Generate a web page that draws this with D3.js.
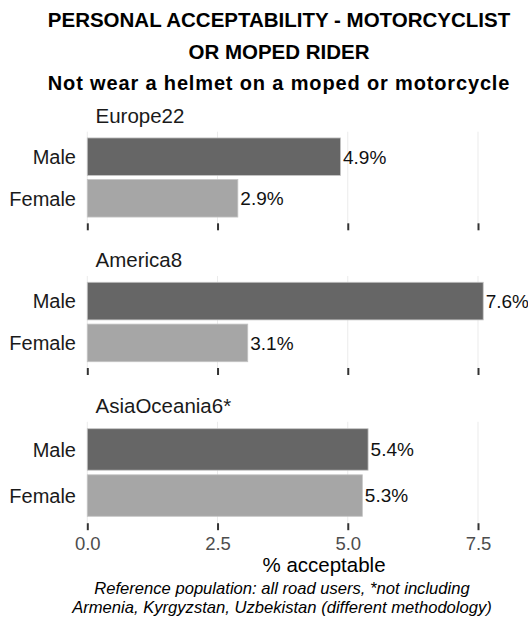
<!DOCTYPE html>
<html>
<head>
<meta charset="utf-8">
<script src="https://cdn.jsdelivr.net/npm/d3@7"></script>
<style>
  html, body { margin: 0; padding: 0; background: #ffffff; }
  svg { display: block; font-family: "Liberation Sans", Arial, sans-serif; }
</style>
</head>
<body>
<svg id="chart" width="528" height="621"></svg>
<script>
// ---- data ----
const titleLines = ["PERSONAL ACCEPTABILITY - MOTORCYCLIST", "OR MOPED RIDER"];
const subtitle = "Not wear a helmet on a moped or motorcycle";
const regions = ["Europe22", "America8", "AsiaOceania6*"];
const genders = ["Male", "Female"];
const maleValues = [4.86, 7.60, 5.39];
const femaleValues = [2.89, 3.08, 5.28];
const xTicks = [0, 2.5, 5.0, 7.5];
const xTitle = "% acceptable";
const captionLines = [
  "Reference population: all road users, *not including",
  "Armenia, Kyrgyzstan, Uzbekistan (different methodology)"
];

// ---- layout ----
const panelExtents = [[131.7, 223.3], [276, 368], [421.8, 523.2]];
const stripBaselines = [123.3, 267.3, 413.3];
const colors = { Male: "#666666", Female: "#a6a6a6" };

const svg = d3.select("#chart");
const x = d3.scaleLinear().domain([0, 7.5]).range([87.3, 478]);
const fmtVal = d3.format(".1f");

// titles
svg.append("g").selectAll("text").data(titleLines).join("text")
  .attr("x", 279).attr("y", (d, i) => [26.7, 59.3][i])
  .attr("text-anchor", "middle").attr("font-weight", "bold")
  .attr("font-size", 20.5).attr("fill", "#000").text(d => d);
svg.append("text").attr("x", 279).attr("y", 90)
  .attr("text-anchor", "middle").attr("font-weight", "bold")
  .attr("font-size", 20).attr("letter-spacing", 0.85).attr("fill", "#000").text(subtitle);

regions.forEach((region, ri) => {
  const [top, bottom] = panelExtents[ri];
  const rows = genders.map(g => ({ gender: g, value: g === "Male" ? maleValues[ri] : femaleValues[ri] }));
  const y = d3.scaleBand().domain(genders).range([top, bottom]).paddingInner(0.1).paddingOuter(0.15);
  const g = svg.append("g");

  // strip label
  g.append("text").attr("x", 95.5).attr("y", stripBaselines[ri])
    .attr("font-size", 20.5).attr("fill", "#1a1a1a").text(region);

  // grid
  g.append("g").selectAll("line").data(xTicks).join("line")
    .attr("x1", d => x(d)).attr("x2", d => x(d))
    .attr("y1", top).attr("y2", bottom)
    .attr("stroke", "#ebebeb").attr("stroke-width", 1);

  // bars
  g.append("g").selectAll("rect").data(rows).join("rect")
    .attr("x", x(0)).attr("y", d => y(d.gender))
    .attr("width", d => x(d.value) - x(0)).attr("height", y.bandwidth())
    .attr("fill", d => colors[d.gender])
    .attr("stroke", "#c4c4c4").attr("stroke-width", 0.8);

  // value labels
  g.append("g").selectAll("text").data(rows).join("text")
    .attr("x", d => x(d.value) + 2.5).attr("y", d => y(d.gender) + y.bandwidth() / 2)
    .attr("dy", "0.36em").attr("font-size", 19).attr("fill", "#111")
    .text(d => fmtVal(d.value) + "%");

  // y axis labels
  g.append("g").selectAll("text").data(genders).join("text")
    .attr("x", 76).attr("y", d => y(d) + y.bandwidth() / 2)
    .attr("dy", "0.36em").attr("text-anchor", "end")
    .attr("font-size", 20).attr("fill", "#1a1a1a").text(d => d);

  // x axis ticks
  const isLast = ri === regions.length - 1;
  const axis = d3.axisBottom(x).tickValues(xTicks).tickSize(7).tickSizeOuter(0).tickPadding(6.5)
    .tickFormat(isLast ? d3.format(".1f") : () => "");
  const ax = g.append("g").attr("transform", `translate(0,${bottom})`).call(axis);
  ax.select(".domain").remove();
  ax.selectAll(".tick line").attr("stroke", "#333").attr("stroke-width", 2);
  ax.selectAll(".tick text").attr("font-size", 18.5).attr("fill", "#4d4d4d")
    .attr("font-family", "'Liberation Sans', Arial, sans-serif");
});

// x title
svg.append("text").attr("x", 324).attr("y", 571.7).attr("text-anchor", "middle")
  .attr("font-size", 20.5).attr("fill", "#000").text(xTitle);

// caption
svg.append("g").selectAll("text").data(captionLines).join("text")
  .attr("x", 282).attr("y", (d, i) => [594.3, 612.5][i])
  .attr("text-anchor", "middle").attr("font-style", "italic")
  .attr("font-size", 16.6).attr("fill", "#000").text(d => d);
</script>
</body>
</html>
